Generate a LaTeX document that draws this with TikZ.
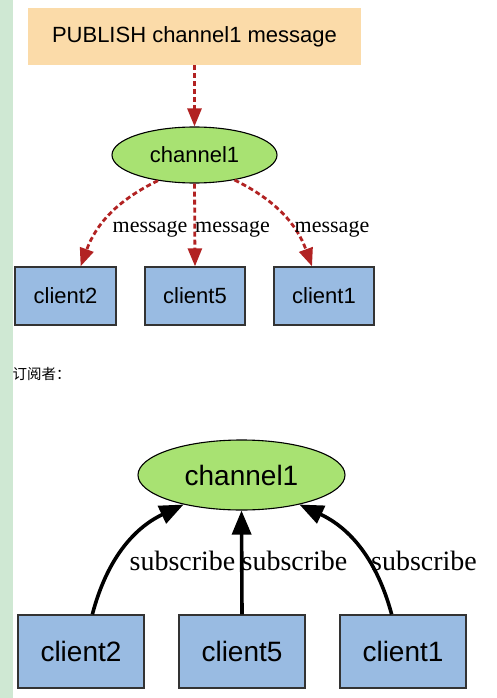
\documentclass[tikz,border=0pt]{standalone}
\usepackage{fontspec}
\usepackage{xcolor}
\usepackage{tikz}
\usetikzlibrary{shapes.geometric,arrows.meta}
\setmainfont{Liberation Serif}
\newfontfamily\arialfont{Liberation Sans}
\newfontfamily\cjkfont{Noto Sans CJK SC}

\definecolor{stripgreen}{HTML}{CFE8D3}
\definecolor{pubpeach}{HTML}{FBDBA9}
\definecolor{chgreen}{HTML}{A8E272}
\definecolor{clblue}{HTML}{99BBE2}
\definecolor{msgred}{HTML}{B22222}

\tikzset{
  chan/.style={ellipse,draw=black,line width=1.1pt,fill=chgreen,inner sep=0pt},
  clientbox/.style={rectangle,draw=black!80,line width=1.4pt,fill=clblue,inner sep=0pt},
  msgedge/.style={draw=msgred,line width=2.8pt,dash pattern=on 5pt off 3pt,
    -{Triangle[length=18pt,width=14pt,fill=msgred]}},
  subedge/.style={draw=black,line width=3.6pt,
    -{Triangle[length=24pt,width=19pt]}},
  lbl/.style={anchor=base,inner sep=0pt}
}

\begin{document}
\begin{tikzpicture}[x=1pt,y=1pt,yscale=-1,xscale=1]

\useasboundingbox (0,0) rectangle (496,698);
\fill[white] (0,0) rectangle (496,698);
\fill[stripgreen] (0,0) rectangle (12.5,698);

% publish part
\node[rectangle,fill=pubpeach,minimum width=333pt,minimum height=57pt,inner sep=0pt] (pub) at (194.5,36.5) {\arialfont\fontsize{22}{26}\selectfont PUBLISH channel1 message};

\node[chan,minimum width=165pt,minimum height=56pt] (ch) at (194.5,155) {\arialfont\fontsize{22}{26}\selectfont channel1};

\node[clientbox,minimum width=101pt,minimum height=58pt] (pc2) at (65.5,296) {\arialfont\fontsize{22}{26}\selectfont client2};
\node[clientbox,minimum width=100pt,minimum height=58pt] (pc5) at (195,296) {\arialfont\fontsize{22}{26}\selectfont client5};
\node[clientbox,minimum width=100pt,minimum height=58pt] (pc1) at (324,296) {\arialfont\fontsize{22}{26}\selectfont client1};

\draw[msgedge] (pub.south) -- (ch.north);
\draw[msgedge] (ch.215) to[bend left=22] (pc2.63);
\draw[msgedge] (ch.south) -- (pc5.north);
\draw[msgedge] (ch.328) to[bend right=22] (pc1.112);

\node[lbl] (m2) at (150,232) {\fontsize{22}{26}\selectfont message};
\node[lbl] (m5) at (232.5,232) {\fontsize{22}{26}\selectfont message};
\node[lbl] (m1) at (332,232) {\fontsize{22}{26}\selectfont message};

% subscriber part
\node[anchor=west,inner sep=0pt] (sub) at (12.5,374) {\cjkfont\fontsize{14.5}{17}\selectfont 订阅者：};

\node[chan,minimum width=207pt,minimum height=70pt] (sch) at (241.5,475) {\arialfont\fontsize{28}{32}\selectfont channel1};

\node[clientbox,minimum width=126pt,minimum height=73pt] (sc2) at (81,651.5) {\arialfont\fontsize{28}{32}\selectfont client2};
\node[clientbox,minimum width=126pt,minimum height=73pt] (sc5) at (242,651.5) {\arialfont\fontsize{28}{32}\selectfont client5};
\node[clientbox,minimum width=126pt,minimum height=73pt] (sc1) at (403,651.5) {\arialfont\fontsize{28}{32}\selectfont client1};

\draw[subedge] (sc2.73) to[bend right=25] (sch.207);
\draw[subedge] (sc5.north) -- (sch.south);
\draw[subedge] (sc1.107) to[bend left=25] (sch.333);

\node[lbl] (s2) at (182.5,570) {\fontsize{28}{32}\selectfont subscribe};
\node[lbl] (s5) at (294.5,570) {\fontsize{28}{32}\selectfont subscribe};
\node[lbl] (s1) at (424,570) {\fontsize{28}{32}\selectfont subscribe};

\end{tikzpicture}
\end{document}
